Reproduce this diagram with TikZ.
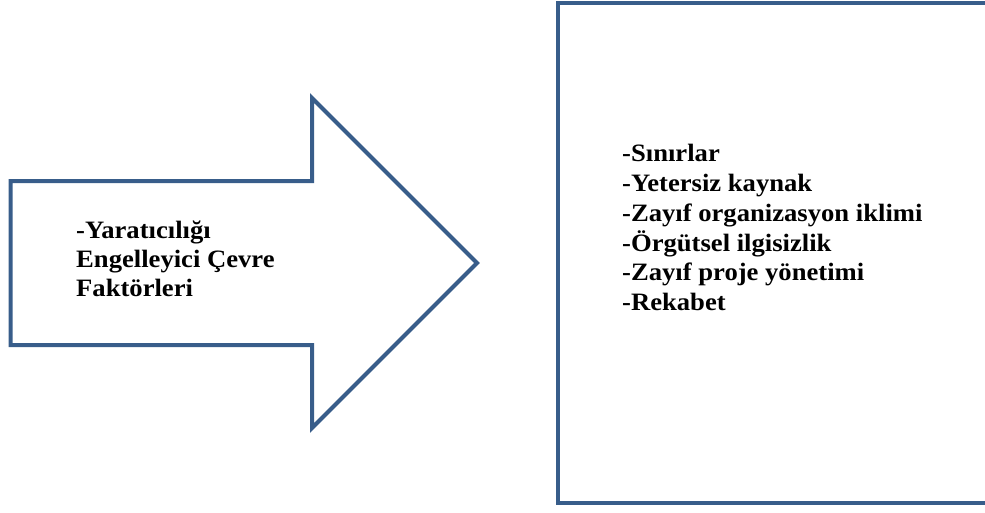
\documentclass[tikz,border=0pt]{standalone}
\usepackage{fontspec}
\setmainfont[FakeStretch=1.065]{Liberation Serif}
\definecolor{shapeblue}{HTML}{385D8A}
\begin{document}
\begin{tikzpicture}[x=1pt,y=-1pt,
  outline/.style={draw=shapeblue,line width=4pt,line join=miter},
  label/.style={font=\bfseries\fontsize{25}{29.8}\selectfont,align=left,inner sep=0pt,anchor=base west}]
\useasboundingbox (0,0) rectangle (985,512);
\clip (0,0) rectangle (985,512);
% arrow
\draw[outline] (10.5,181) -- (312,181) -- (312,98) -- (477,263) -- (312,428) -- (312,345) -- (10.5,345) -- cycle;
% box
\draw[outline] (558,3) rectangle (1000,503);
% anchors are at the baseline of each text's last line
\node[label,font=\bfseries\fontsize{25}{28.9}\selectfont] (left) at (76,296.7) {-Yaratıcılığı\\Engelleyici Çevre\\Faktörleri};
\node[label] (right) at (622,310.7) {-Sınırlar\\-Yetersiz kaynak\\-Zayıf organizasyon iklimi\\-Örgütsel ilgisizlik\\-Zayıf proje yönetimi\\-Rekabet};
\end{tikzpicture}
\end{document}
